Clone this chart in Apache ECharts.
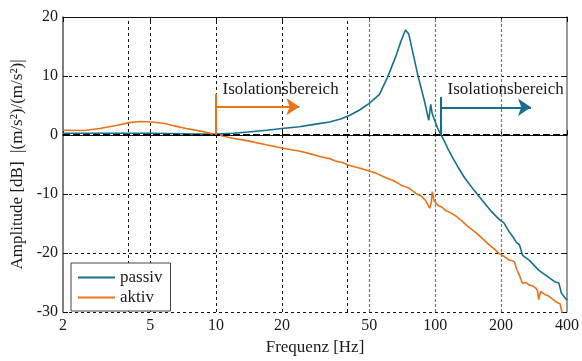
<!DOCTYPE html>
<html><head><meta charset="utf-8">
<script src="https://cdn.jsdelivr.net/npm/echarts@6/dist/echarts.min.js"></script>
<style>html,body{margin:0;padding:0;background:#fff}#c{width:582px;height:361px}</style>
</head><body><div id="c"></div>
<script>
// ---- data (frequency in Hz, amplitude in dB) ----
const passivFreq = [2, 3, 4, 5, 6, 7, 8, 10, 12, 14, 17, 20, 24, 28, 33, 37, 40.6, 45, 50.2, 55.7, 60.8, 66.4, 70, 73.2, 75.8, 79, 83.3, 89.3, 93.5, 95.5, 97, 102.8, 106.5, 110, 115, 120, 128, 136, 150, 165, 180, 196, 206, 217, 228, 234.6, 242.6, 250.8, 268.5, 297, 318, 335, 352.5, 367.3, 377, 390, 400];
const passivDb = [0.3, 0.3, 0.3, 0.3, 0.25, 0.2, 0.15, 0.15, 0.3, 0.5, 0.8, 1.1, 1.4, 1.8, 2.2, 2.7, 3.3, 4.2, 5.4, 6.9, 9.9, 13.5, 16, 17.8, 17.1, 14.1, 10.2, 5.8, 2.5, 5.2, 3.6, 1.1, 0, -1.0, -2.5, -3.8, -5.6, -7.2, -9.3, -11.2, -12.9, -14.3, -14.9, -16.3, -17.4, -18.2, -18.6, -20.4, -21.2, -22.9, -23.7, -24.3, -24.9, -25.1, -26.8, -27.5, -28.0];
const aktivFreq = [2, 2.5, 2.94, 3.5, 4, 4.5, 5.1, 5.9, 6.5, 7.3, 8.4, 10, 11.9, 14, 16.9, 20, 22, 24.2, 27, 30, 33, 35, 38, 40, 45, 50, 54, 57.5, 60, 65, 70, 76, 81.6, 86, 90, 94.5, 96, 97, 99, 103, 108, 112, 118, 125, 132, 140, 154, 165, 175, 186, 196, 207, 218, 225, 230, 236, 242, 250, 260, 268, 280, 287, 293, 297, 303, 310, 320, 330, 346, 360, 372, 378, 380, 382];
const aktivDb = [0.8, 0.75, 1.1, 1.6, 2.1, 2.3, 2.2, 1.9, 1.5, 1.1, 0.7, 0.1, -0.55, -1.0, -1.65, -2.2, -2.5, -2.75, -3.2, -3.7, -4.0, -4.4, -4.7, -5.1, -5.6, -6.1, -6.5, -7.0, -7.3, -7.8, -8.5, -9.0, -9.9, -10.3, -11.0, -12.4, -11.5, -9.6, -11.2, -11.9, -12.3, -12.8, -13.2, -13.8, -14.5, -15.4, -16.6, -17.6, -18.5, -19.3, -20.1, -20.6, -21.2, -21.3, -21.5, -22.8, -23.7, -25.1, -25.0, -25.4, -25.6, -25.9, -26.3, -27.9, -26.5, -26.8, -27.1, -27.3, -27.9, -28.4, -28.6, -28.7, -30.2, -31];
const xTickLabels = [2, 5, 10, 20, 50, 100, 200, 400];
const xGridDark = [4, 5, 10, 20, 40];
const xGridGray = [50, 100, 200];
const yTickLabels = [-30, -20, -10, 0, 10, 20];
const seriesNames = ['passiv', 'aktiv'];
const annotText = 'Isolationsbereich';
// annotations: [aktiv, passiv]
const isoStartFreq = [10, 106.5];
const isoEndFreq = [24, 274];
const isoTopDb = [7, 6.45];
const isoArrowDb = [4.8, 4.7];
const isoTextFreq = [10.7, 114];
const isoTextDb = [7.7, 7.7];

const colPassiv = '#15708f';
const colAktiv = '#ea7219';
const FONT = "'Liberation Serif', 'Times New Roman', serif";
const lg = Math.log10;

const toPts = (f, d) => f.map((v, i) => [lg(v), d[i]]);

function annot(i, color) {
  return {
    type: 'line', data: [], silent: true,
    markLine: {
      silent: true, z: 6, animation: false,
      label: {show: false},
      lineStyle: {color: color, width: 2, type: 'solid'},
      data: [
        [{coord: [lg(isoStartFreq[i]), 0], symbol: 'none'}, {coord: [lg(isoStartFreq[i]), isoTopDb[i]], symbol: 'none'}],
        [{coord: [lg(isoStartFreq[i]), isoArrowDb[i]], symbol: 'none'}, {coord: [lg(isoEndFreq[i]), isoArrowDb[i]], symbol: 'arrow', symbolSize: 13}]
      ]
    },
    markPoint: {
      silent: true, animation: false, symbol: 'circle', symbolSize: 0,
      label: {show: true, position: 'right', distance: 0, color: '#1a1a1a', fontFamily: FONT, fontSize: 17, formatter: annotText},
      data: [{coord: [lg(isoTextFreq[i]), isoTextDb[i]]}]
    }
  };
}

const chart = echarts.init(document.getElementById('c'), null, {renderer: 'canvas'});
const tickVals = xTickLabels.map(lg);
chart.setOption({
  animation: false,
  backgroundColor: '#fff',
  grid: {left: 63, right: 14, top: 17, bottom: 42, show: false},
  legend: {
    data: seriesNames, orient: 'vertical', left: 71, top: 263,
    icon: 'rect',
    backgroundColor: '#fff', borderColor: '#444', borderWidth: 1,
    padding: [6, 8, 5, 7], itemWidth: 37, itemHeight: 2, itemGap: 3,
    textStyle: {fontFamily: FONT, fontSize: 17, color: '#1a1a1a', lineHeight: 17}
  },
  xAxis: [{
    type: 'value', min: lg(2), max: lg(400),
    name: 'Frequenz [Hz]', nameLocation: 'middle', nameGap: 27,
    nameTextStyle: {fontFamily: FONT, fontSize: 17, color: '#1a1a1a'},
    axisLine: {lineStyle: {color: '#111', width: 1}},
    axisTick: {show: true, inside: true, length: 5, customValues: tickVals, lineStyle: {color: '#111'}},
    axisLabel: {customValues: tickVals, margin: 6, fontFamily: FONT, fontSize: 16, color: '#1a1a1a',
      formatter: v => String(Math.round(Math.pow(10, v)))},
    splitLine: {show: false}
  }, {
    type: 'value', min: lg(2), max: lg(400), position: 'top',
    axisLine: {show: true, onZero: false, lineStyle: {color: '#111', width: 1}},
    axisTick: {show: true, inside: true, length: 5, customValues: tickVals, lineStyle: {color: '#111'}},
    axisLabel: {show: false}, splitLine: {show: false}
  }],
  yAxis: [{
    type: 'value', min: -30, max: 20, interval: 10,
    name: 'Amplitude [dB]  |(m/s²)/(m/s²)|', nameLocation: 'middle', nameGap: 28, nameRotate: 90,
    nameTextStyle: {fontFamily: FONT, fontSize: 17, color: '#1a1a1a'},
    axisLine: {show: true, lineStyle: {color: '#555', width: 1.5}},
    axisTick: {show: true, inside: true, length: 5, lineStyle: {color: '#111'}},
    axisLabel: {margin: 5, fontFamily: FONT, fontSize: 16, color: '#1a1a1a', formatter: v => String(v)},
    splitLine: {show: true, lineStyle: {color: '#111', width: 1, type: [3, 3]}}
  }, {
    type: 'value', min: -30, max: 20, interval: 10, position: 'right',
    axisLine: {show: true, onZero: false, lineStyle: {color: '#777', width: 1.5}},
    axisTick: {show: true, inside: true, length: 5, lineStyle: {color: '#111'}},
    axisLabel: {show: false}, splitLine: {show: false}
  }],
  series: [
    {
      type: 'line', data: [], silent: true, z: 1,
      markLine: {
        silent: true, z: 1, animation: false, symbol: 'none', label: {show: false},
        data: xGridDark.map(f => ({xAxis: lg(f), lineStyle: {color: '#111', width: 1, type: [3, 3]}}))
          .concat(xGridGray.map(f => ({xAxis: lg(f), lineStyle: {color: '#777', width: 1.2, type: [3, 2]}})))
      }
    },
    {
      name: seriesNames[0], type: 'line', data: toPts(passivFreq, passivDb), symbol: 'none',
      lineStyle: {color: colPassiv, width: 1.6}, itemStyle: {color: colPassiv}, z: 3, clip: true
    },
    {
      name: seriesNames[1], type: 'line', data: toPts(aktivFreq, aktivDb), symbol: 'none',
      lineStyle: {color: colAktiv, width: 1.6}, itemStyle: {color: colAktiv}, z: 3, clip: true
    },
    {
      type: 'line', data: [], silent: true,
      markLine: {
        silent: true, z: 5, animation: false, symbol: 'none', label: {show: false},
        data: [{yAxis: 0, lineStyle: {color: '#000', width: 2, type: [7, 3]}}]
      }
    },
    annot(0, colAktiv),
    annot(1, colPassiv)
  ]
});
</script></body></html>
